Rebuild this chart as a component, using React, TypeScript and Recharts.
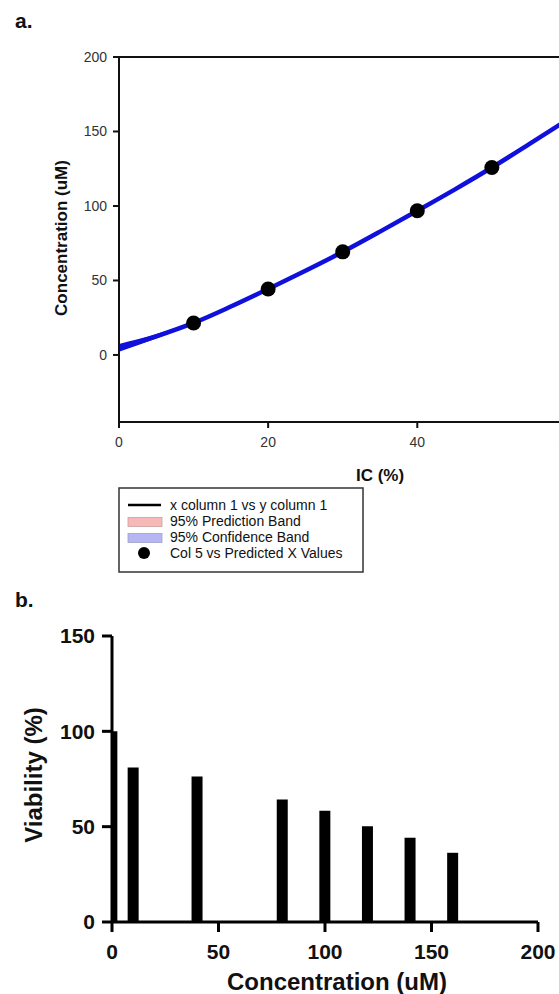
import React from "react";
import {
  ComposedChart,
  Line,
  Area,
  Scatter,
  Bar,
  XAxis,
  YAxis,
  ReferenceLine,
} from "recharts";

const FONT = "'Liberation Sans', Arial, Helvetica, sans-serif";

// ---- Panel a: fitted curve ----
const curveX = [0, 5, 10, 15, 20, 25, 30, 35, 40, 45, 50, 55, 60];
const curveY = [4.7, 12.5, 21.5, 32.5, 44.3, 56.5, 69.2, 82.8, 96.8, 111, 125.8, 141.5, 157.5];
const bandLow = [2.2, 11.0, 20.6, 31.6, 43.4, 55.6, 68.3, 81.9, 95.9, 110.1, 124.9, 140.6, 156.6];
const bandHigh = [7.4, 14.0, 22.4, 33.4, 45.2, 57.4, 70.1, 83.7, 97.7, 111.9, 126.7, 142.4, 158.4];
const predX = [10, 20, 30, 40, 50];
const predY = [21.5, 44.3, 69.2, 96.8, 125.8];
const aXTicks = [0, 20, 40, 60];
const aYTicks = [0, 50, 100, 150, 200];
const legendItems = [
  "x column 1 vs y column 1",
  "95% Prediction Band",
  "95% Confidence Band",
  "Col 5 vs Predicted X Values",
];

// ---- Panel b: viability bars ----
const concX = [0, 10, 40, 80, 100, 120, 140, 160];
const viability = [100, 81, 76.3, 64.2, 58.4, 50.2, 44.2, 36.3];
const bXTicks = [0, 50, 100, 150, 200];
const bYTicks = [0, 50, 100, 150];

const curveRows = curveX.map((x, i) => ({ x, y: curveY[i], band: [bandLow[i], bandHigh[i]] }));
const predRows = predX.map((x, i) => ({ x, y: predY[i] }));
const barRows = concX.map((x, i) => ({ x, v: viability[i] }));

const BLUE = "#1010dc";

const Dot = (props: any) => {
  const { cx, cy } = props;
  if (cx == null || cy == null) return null;
  return <circle cx={cx} cy={cy} r={7.5} fill="#000" />;
};

export default function App() {
  return (
    <div
      style={{
        position: "fixed",
        left: 0,
        top: 0,
        width: 559,
        height: 994,
        overflow: "hidden",
        background: "#fff",
        fontFamily: FONT,
      }}
    >
      <div style={{ position: "absolute", left: 0, top: 0 }}>
        <ComposedChart
          width={700}
          height={500}
          data={curveRows}
          margin={{ top: 57, right: 59, bottom: 48, left: 59 }}
        >
          <XAxis
            dataKey="x"
            type="number"
            domain={[0, 70]}
            ticks={aXTicks}
            allowDataOverflow
            height={30}
            tickSize={6}
            tickMargin={9}
            axisLine={{ stroke: "#111", strokeWidth: 2 }}
            tickLine={{ stroke: "#111", strokeWidth: 2 }}
            tick={{ fontSize: 14, fill: "#333", fontFamily: FONT }}
          />
          <YAxis
            type="number"
            domain={[-45, 200]}
            ticks={aYTicks}
            allowDataOverflow
            width={60}
            tickSize={6}
            tickMargin={6}
            axisLine={{ stroke: "#111", strokeWidth: 2 }}
            tickLine={{ stroke: "#111", strokeWidth: 2 }}
            tick={{ fontSize: 14, fill: "#333", fontFamily: FONT }}
          />
          <ReferenceLine y={200} stroke="#111" strokeWidth={2} ifOverflow="visible" />
          <Area
            dataKey="band"
            type="monotone"
            stroke="none"
            fill={BLUE}
            fillOpacity={1}
            isAnimationActive={false}
          />
          <Line
            dataKey="y"
            type="monotone"
            stroke={BLUE}
            strokeWidth={4.5}
            dot={false}
            isAnimationActive={false}
          />
          <Scatter data={predRows} dataKey="y" shape={Dot} isAnimationActive={false} />
        </ComposedChart>
      </div>

      <div style={{ position: "absolute", left: 0, top: 580 }}>
        <ComposedChart
          width={559}
          height={414}
          data={barRows}
          margin={{ top: 56, right: 21, bottom: 32, left: 50 }}
        >
          <XAxis
            dataKey="x"
            type="number"
            domain={[0, 200]}
            ticks={bXTicks}
            allowDataOverflow
            height={40}
            tickSize={10}
            tickMargin={12}
            axisLine={{ stroke: "#000", strokeWidth: 3 }}
            tickLine={{ stroke: "#000", strokeWidth: 3 }}
            tick={{ fontSize: 21, fontWeight: "bold", fill: "#111", fontFamily: FONT }}
          />
          <YAxis
            type="number"
            domain={[0, 150]}
            ticks={bYTicks}
            allowDataOverflow
            width={62}
            tickSize={10}
            tickMargin={7}
            axisLine={{ stroke: "#000", strokeWidth: 3 }}
            tickLine={{ stroke: "#000", strokeWidth: 3 }}
            tick={{ fontSize: 21, fontWeight: "bold", fill: "#111", fontFamily: FONT }}
          />
          <Bar dataKey="v" fill="#000" barSize={11} isAnimationActive={false} />
        </ComposedChart>
      </div>

      <svg
        width={559}
        height={994}
        style={{ position: "absolute", left: 0, top: 0, pointerEvents: "none" }}
        fontFamily={FONT}
      >
        <text x={15} y={28} fontSize={21} fontWeight="bold" fill="#111">a.</text>
        <text
          x={0}
          y={0}
          transform="translate(67,238) rotate(-90)"
          textAnchor="middle"
          fontSize={17}
          fontWeight="bold"
          fill="#111"
        >
          Concentration (uM)
        </text>
        <text x={380} y={481} textAnchor="middle" fontSize={17} fontWeight="bold" fill="#111">
          IC (%)
        </text>

        <rect x={119} y={488} width={244} height={84} fill="#fff" stroke="#333" strokeWidth={1.5} />
        <line x1={128} y1={505} x2={161} y2={505} stroke="#000" strokeWidth={2.5} />
        <rect x={128} y={517.5} width={34} height={9} fill="#f7b8b8" stroke="#c9a0a0" strokeWidth={0.8} />
        <rect x={128} y={533.5} width={34} height={9} fill="#b6b6f4" stroke="#a0a0c9" strokeWidth={0.8} />
        <circle cx={144} cy={553} r={6} fill="#000" />
        {legendItems.map((t, i) => (
          <text key={t} x={170} y={510 + i * 16} fontSize={14} fill="#111">
            {t}
          </text>
        ))}

        <text x={15} y={607} fontSize={21} fontWeight="bold" fill="#111">b.</text>
        <text
          x={0}
          y={0}
          transform="translate(42,775) rotate(-90)"
          textAnchor="middle"
          fontSize={24}
          fontWeight="bold"
          fill="#111"
        >
          Viability (%)
        </text>
        <text x={337} y={990} textAnchor="middle" fontSize={24} fontWeight="bold" fill="#111">
          Concentration (uM)
        </text>
      </svg>
    </div>
  );
}
